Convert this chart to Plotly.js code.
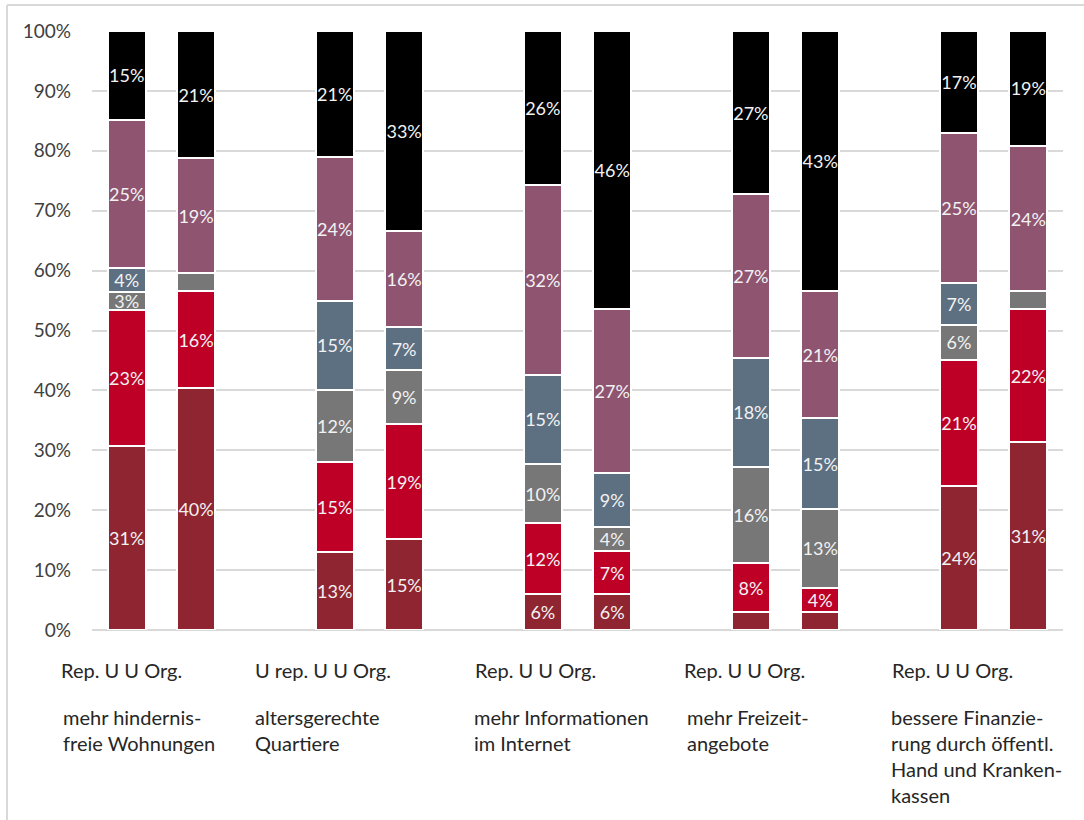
<!DOCTYPE html>
<html>
<head>
<meta charset="utf-8">
<script src="https://cdn.plot.ly/plotly-3.0.1.min.js"></script>
<style>
  html, body { margin: 0; padding: 0; background: #ffffff; }
  #chart { width: 1084px; height: 820px; }
</style>
</head>
<body>
<div id="chart"></div>
<script>
// Topics (one group of two bars each) and the survey label under each group
const topics = [
  'mehr hindernis-<br>freie Wohnungen',
  'altersgerechte<br>Quartiere',
  'mehr Informationen<br>im Internet',
  'mehr Freizeit-<br>angebote',
  'bessere Finanzie-<br>rung durch öffentl.<br>Hand und Kranken-<br>kassen'
];
const surveyLabels = ['Rep. U U Org.', 'U rep. U U Org.', 'Rep. U U Org.', 'Rep. U U Org.', 'Rep. U U Org.'];

// Shares in percent, two bars per topic (Rep. U, U Org.), stacked bottom to top
const sDarkRed = [31, 40, 13, 15, 6, 6, 3, 3, 24, 31];
const sRed     = [23, 16, 15, 19, 12, 7, 8, 4, 21, 22];
const sGray    = [3, 3, 12, 9, 10, 4, 16, 13, 6, 3];
const sSlate   = [4, 0, 15, 7, 15, 9, 18, 15, 7, 0];
const sMauve   = [25, 19, 24, 16, 32, 27, 27, 21, 25, 24];
const sBlack   = [15, 21, 21, 33, 26, 46, 27, 43, 17, 19];

// Segments printed without a value label (bar indices)
const noLabelDarkRed = [6, 7];
const noLabelGray = [1, 9];
const noLabelSlate = [1, 9];

const FONT = 'Lato, "Open Sans", sans-serif';

// bar i of topic g sits in slot 3*g + i (third slot left empty as spacer)
const xPos = sDarkRed.map((_, k) => 3 * Math.floor(k / 2) + (k % 2));

function series(values, color, hidden) {
  return {
    type: 'bar',
    x: xPos,
    y: values,
    width: 0.55,
    marker: { color: color, line: { color: '#ffffff', width: 2 } },
    text: values.map((v, k) => (hidden.includes(k) ? '' : v + '%')),
    textposition: 'inside',
    insidetextanchor: 'middle',
    textangle: 0,
    constraintext: 'none',
    textfont: { family: FONT, size: 18, color: '#F2F2F2' },
    hoverinfo: 'skip',
    showlegend: false
  };
}

const traces = [
  series(sDarkRed, '#8F2530', noLabelDarkRed),
  series(sRed, '#BE0027', []),
  series(sGray, '#777777', noLabelGray),
  series(sSlate, '#5D7082', noLabelSlate),
  series(sMauve, '#8F5470', []),
  series(sBlack, '#000000', [])
];

// Plot area geometry in pixels, used to place the text under the axis
const PL = 92, PR = 1063, PT = 31, PB = 630;
const px2x = p => (p - PL) / (PR - PL);
const px2y = p => (PB - p) / (PB - PT);
const surveyLeft = [59, 253, 473, 682, 890];
const topicLeft = [61, 253, 472, 685, 889];

const annotations = [];
surveyLabels.forEach((t, g) => {
  annotations.push({
    xref: 'paper', yref: 'paper', x: px2x(surveyLeft[g]), y: px2y(670),
    xanchor: 'left', yanchor: 'middle', align: 'left', showarrow: false,
    text: t, font: { family: FONT, size: 20, color: '#262626' }
  });
});
topics.forEach((t, g) => {
  annotations.push({
    xref: 'paper', yref: 'paper', x: px2x(topicLeft[g]), y: px2y(703),
    xanchor: 'left', yanchor: 'top', align: 'left', showarrow: false,
    text: t, font: { family: FONT, size: 20, color: '#262626' }
  });
});

const layout = {
  width: 1084,
  height: 820,
  margin: { l: PL, r: 1084 - PR, t: PT, b: 820 - PB, pad: 0 },
  paper_bgcolor: '#ffffff',
  plot_bgcolor: '#ffffff',
  barmode: 'stack',
  barnorm: 'percent',
  xaxis: {
    range: [-0.5, 13.5],
    showticklabels: false,
    showgrid: false,
    zeroline: false,
    showline: false,
    ticks: ''
  },
  yaxis: {
    range: [0, 100],
    tickmode: 'linear',
    tick0: 0,
    dtick: 10,
    ticksuffix: '%',
    showgrid: true,
    gridcolor: '#D9D9D9',
    gridwidth: 2,
    zeroline: true,
    zerolinecolor: '#D9D9D9',
    zerolinewidth: 2,
    showline: false,
    ticks: '',
    ticklabelstandoff: 20,
    tickfont: { family: FONT, size: 19, color: '#404040' }
  },
  annotations: annotations,
  shapes: [
    { type: 'line', xref: 'paper', yref: 'paper', layer: 'below',
      x0: px2x(7), x1: px2x(1084), y0: px2y(5), y1: px2y(5),
      line: { color: '#D9D9D9', width: 2 } },
    { type: 'line', xref: 'paper', yref: 'paper', layer: 'below',
      x0: px2x(7), x1: px2x(7), y0: px2y(5), y1: px2y(822),
      line: { color: '#D9D9D9', width: 2 } }
  ]
};

Plotly.newPlot('chart', traces, layout, { displayModeBar: false, staticPlot: true });
</script>
</body>
</html>
